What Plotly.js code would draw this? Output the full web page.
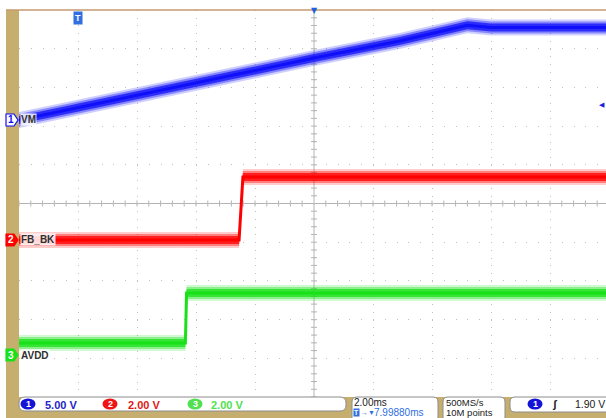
<!DOCTYPE html>
<html><head><meta charset="utf-8">
<script src="https://cdn.plot.ly/plotly-3.0.1.min.js"></script>
<style>html,body{margin:0;padding:0;background:#fff;}#chart{width:606px;height:418px;}</style>
</head><body><div id="chart"></div>
<script>
// ---- data (time in ms, trigger at 0; volts per channel) ----
const vmTime    = [-2, 5.5, 8.0, 10.9, 13.2, 14.0, 17.9];
const vmVolts   = [0, 6.0, 8.0, 10.2, 12.25, 11.95, 11.95];
const fbTime    = [-2, 5.46, 5.59, 17.9];
const fbVolts   = [0, 0, 3.26, 3.26];
const avddTime  = [-2, 3.64, 3.68, 17.9];
const avddVolts = [0.62, 0.62, 3.2, 3.2];
const channelNames  = ['VM', 'FB_BK', 'AVDD'];
const channelNums   = ['1', '2', '3'];
const channelScales = [5, 2, 2];            // V/div
const scaleLabels   = ['5.00 V', '2.00 V', '2.00 V'];
const timebaseLabel = '2.00ms';
const positionLabel = '7.99880ms';
const sampleRateLabel = '500MS/s';
const recordLabel   = '10M points';
const triggerLevel  = 1.90;
const triggerLabel  = '1.90 V';

// ---- geometry ----
const L = 19, W = 587, TOPPX = 10, BOT = 397, H = 387;
const DIV = H / 10;
const CENTER = TOPPX + H / 2;
const PX_PER_MS = 29.5;
const offsets = [2.158, -0.943, -3.915];   // ground position, divisions above centre
const groundPx = offsets.map(o => CENTER - o * DIV);
const PX = x => (x - L) / W;
const PY = y => (BOT - y) / H;
const colors = ['15,15,250', '255,0,0', '25,225,25'];
const axes = ['y2', 'y3', 'y4'];
const TAN = '#C5AE6E';

function bands(t, v, ch) {
  const s = channelScales[ch], c = colors[ch], out = [];
  [[8, 0.2], [6, 0.38], [4, 0.75]].forEach(([hp, a]) => {
    const d = hp / DIV * s;
    const xs = t.concat(t.slice().reverse());
    const ys = v.map(q => q + d).concat(v.slice().reverse().map(q => q - d));
    out.push({type: 'scatter', mode: 'lines', x: xs, y: ys, fill: 'toself',
      fillcolor: `rgba(${c},${a})`, line: {width: 0, color: `rgba(${c},0)`},
      xaxis: 'x', yaxis: axes[ch], hoverinfo: 'skip', showlegend: false});
  });
  out.push({type: 'scatter', mode: 'lines', x: t, y: v, line: {color: `rgb(${c})`, width: 3},
    xaxis: 'x', yaxis: axes[ch], hoverinfo: 'skip', showlegend: false});
  return out;
}

const data = [{type: 'scatter', x: [null], y: [null], xaxis: 'x', yaxis: 'y', showlegend: false}]
  .concat(bands(vmTime, vmVolts, 0), bands(fbTime, fbVolts, 1), bands(avddTime, avddVolts, 2));

const shapes = [];
const annotations = [];
// tan frame
shapes.push({type: 'rect', xref: 'paper', yref: 'paper', x0: PX(6), x1: PX(19), y0: PY(418), y1: PY(10), fillcolor: TAN, line: {width: 0}, layer: 'above'});
shapes.push({type: 'rect', xref: 'paper', yref: 'paper', x0: PX(6), x1: PX(606), y0: PY(418), y1: PY(397), fillcolor: TAN, line: {width: 0}, layer: 'above'});
shapes.push({type: 'line', xref: 'paper', yref: 'paper', x0: PX(6), x1: 1, y0: PY(10), y1: PY(10), line: {color: '#C49A6C', width: 1.5}});
// centre cross
const tCenter = 8;
shapes.push({type: 'line', xref: 'x', yref: 'paper', x0: tCenter, x1: tCenter, y0: 0, y1: 1, line: {color: '#b4b4b4', width: 1}, layer: 'below'});
shapes.push({type: 'line', xref: 'paper', yref: 'y', x0: 0, x1: 1, y0: 0, y1: 0, line: {color: '#b4b4b4', width: 1}, layer: 'below'});
for (let k = -25; k <= 25; k++) {
  if (k === 0) continue;
  const tx = tCenter + k * 0.4;
  shapes.push({type: 'line', xref: 'x', yref: 'y', x0: tx, x1: tx, y0: -3 / DIV, y1: 3 / DIV, line: {color: '#b4b4b4', width: 1}, layer: 'below'});
  const yy = k * 0.2;
  shapes.push({type: 'line', xref: 'x', yref: 'y', x0: tCenter - 3 / PX_PER_MS, x1: tCenter + 3 / PX_PER_MS, y0: yy, y1: yy, line: {color: '#b4b4b4', width: 1}, layer: 'below'});
}
// channel markers
channelNames.forEach((name, i) => {
  const g = groundPx[i];
  const col = `rgb(${colors[i]})`;
  const filled = i !== 0;
  shapes.push({type: 'path', xref: 'paper', yref: 'paper',
    path: `M${PX(6)},${PY(g - 6)} L${PX(14)},${PY(g - 6)} L${PX(18)},${PY(g)} L${PX(14)},${PY(g + 6)} L${PX(6)},${PY(g + 6)} Z`,
    fillcolor: filled ? col : '#ffffff', line: {color: col, width: 1.2}, layer: 'above'});
  annotations.push({xref: 'paper', yref: 'paper', x: PX(10.5), y: PY(g), text: '<b>' + channelNums[i] + '</b>', showarrow: false,
    font: {family: 'Liberation Sans', size: 10, color: filled ? '#ffffff' : col}, xanchor: 'center', yanchor: 'middle'});
  annotations.push({xref: 'paper', yref: 'paper', x: PX(20), y: PY(g), text: '<b>' + name + '</b>', showarrow: false,
    font: {family: 'Liberation Sans', size: 10, color: '#303030'}, xanchor: 'left', yanchor: 'middle', bgcolor: 'rgba(255,255,255,0.85)', borderpad: 0});
});
// top markers
annotations.push({xref: 'x', yref: 'paper', x: 0, y: PY(18), text: '<b>T</b>', showarrow: false, font: {family: 'Liberation Sans', size: 9, color: '#fff'}, bgcolor: '#2F6FE0', borderpad: 1, xanchor: 'center', yanchor: 'middle'});
annotations.push({xref: 'x', yref: 'paper', x: tCenter, y: PY(11), text: '▼', showarrow: false, font: {family: 'DejaVu Sans', size: 8, color: '#2060E0'}, xanchor: 'center', yanchor: 'middle'});
// trigger level marker
annotations.push({xref: 'paper', yref: 'y2', x: PX(597), y: triggerLevel, text: '◀', showarrow: false, font: {family: 'DejaVu Sans', size: 7, color: '#2020E0'}, xanchor: 'left', yanchor: 'middle'});

// bottom boxes
function rbox(x0, y0, x1, y1, r) {
  const P = (x, y) => `${PX(x)},${PY(y)}`;
  return `M${P(x0 + r, y0)} L${P(x1 - r, y0)} Q${P(x1, y0)} ${P(x1, y0 + r)} L${P(x1, y1 - r)} Q${P(x1, y1)} ${P(x1 - r, y1)} L${P(x0 + r, y1)} Q${P(x0, y1)} ${P(x0, y1 - r)} L${P(x0, y0 + r)} Q${P(x0, y0)} ${P(x0 + r, y0)} Z`;
}
[[19, 397, 346, 411, 6], [352, 397, 438, 422, 5], [443, 397, 505, 422, 5], [510, 397, 615, 412, 5]].forEach(b => {
  shapes.push({type: 'path', xref: 'paper', yref: 'paper', path: rbox(...b), fillcolor: '#ffffff', line: {color: '#8c8c8c', width: 1}, layer: 'above'});
});
function badge(cx, cy, num, col) {
  shapes.push({type: 'circle', xref: 'paper', yref: 'paper', x0: PX(cx - 7.5), x1: PX(cx + 7.5), y0: PY(cy + 5.5), y1: PY(cy - 5.5), fillcolor: col, line: {width: 0}, layer: 'above'});
  annotations.push({xref: 'paper', yref: 'paper', x: PX(cx), y: PY(cy), text: '<b>' + num + '</b>', showarrow: false, font: {family: 'Liberation Sans', size: 9, color: '#fff'}, xanchor: 'center', yanchor: 'middle'});
}
function txt(x, y, s, col, size, bold) {
  annotations.push({xref: 'paper', yref: 'paper', x: PX(x), y: PY(y), text: bold ? '<b>' + s + '</b>' : s, showarrow: false,
    font: {family: 'Liberation Sans', size: size, color: col}, xanchor: 'left', yanchor: 'middle', borderpad: 0});
}
const badgeCols = ['#1414D8', '#F01414', '#50E050'];
const textCols = ['#2424C8', '#E01818', '#50E050'];
const badgeX = [28, 110, 195];
const labelX = [44, 127, 210];
scaleLabels.forEach((s, i) => { badge(badgeX[i], 404, channelNums[i], badgeCols[i]); txt(labelX[i], 404.5, s, textCols[i], 11, true); });
txt(353, 402.5, timebaseLabel, '#202020', 10, false);
annotations.push({xref: 'paper', yref: 'paper', x: PX(353), y: PY(413), text: '<b>T</b>', showarrow: false, font: {family: 'Liberation Sans', size: 7, color: '#fff'}, bgcolor: '#2F6FE0', borderpad: 0, xanchor: 'left', yanchor: 'middle'});
txt(360, 413, '→▼', '#2F6FE0', 7, false);
txt(373, 413, positionLabel, '#2F6FE0', 10, false);
txt(445, 402.5, sampleRateLabel, '#202020', 9.5, false);
txt(445, 413, recordLabel, '#202020', 9.5, false);
badge(535, 404, '1', '#1414D8');
txt(551, 404, 'ʃ', '#202020', 11, true);
txt(574, 403.5, triggerLabel, '#202020', 10.5, false);

const chAxis = i => ({overlaying: 'y', range: [(-5 - offsets[i]) * channelScales[i], (5 - offsets[i]) * channelScales[i]],
  visible: false, showgrid: false, zeroline: false, fixedrange: true});

const layout = {
  width: 606, height: 418,
  margin: {l: L, r: 0, t: TOPPX, b: 418 - BOT, pad: 0},
  paper_bgcolor: '#ffffff', plot_bgcolor: '#ffffff',
  showlegend: false,
  xaxis: {range: [-2, -2 + W / PX_PER_MS], tick0: 0, dtick: 2, showgrid: true, gridcolor: '#c0c0c0', gridwidth: 1,
    griddash: '1px,' + (DIV / 5 - 1).toFixed(2) + 'px', zeroline: false, showticklabels: false, ticks: '', showline: false},
  yaxis: {range: [-5, 5], tick0: 0, dtick: 1, showgrid: true, gridcolor: '#c0c0c0', gridwidth: 1,
    griddash: '1px,' + (PX_PER_MS * 0.4 - 1).toFixed(2) + 'px', zeroline: false, showticklabels: false, ticks: '', showline: false},
  yaxis2: chAxis(0), yaxis3: chAxis(1), yaxis4: chAxis(2),
  shapes: shapes, annotations: annotations
};
Plotly.newPlot('chart', data, layout, {displayModeBar: false, staticPlot: true});
</script></body></html>
